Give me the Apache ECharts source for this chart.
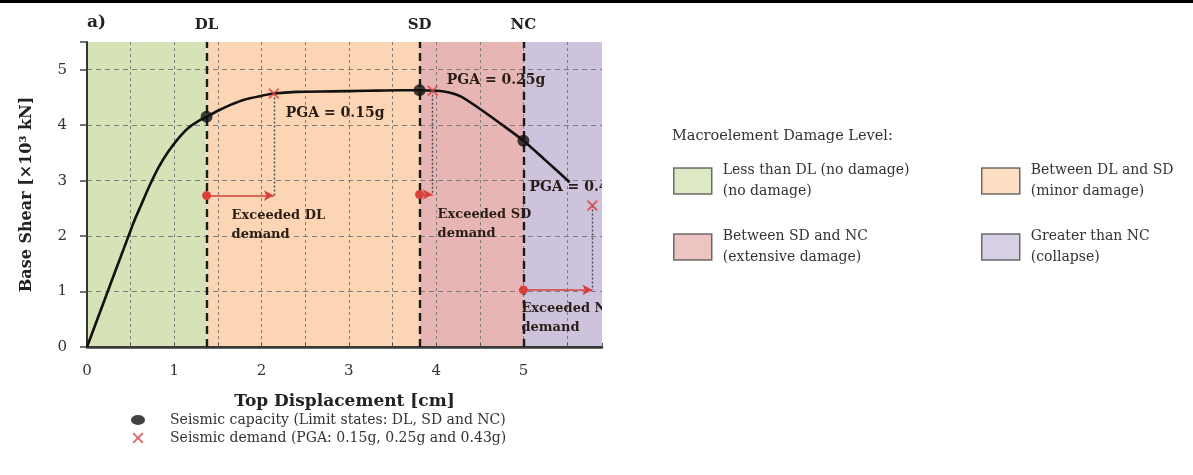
<!DOCTYPE html>
<html>
<head>
<meta charset="utf-8">
<script src="https://cdn.jsdelivr.net/npm/echarts@6/dist/echarts.min.js"></script>
<style>
  html, body { margin: 0; padding: 0; background: #ffffff; }
  #chart { width: 1193px; height: 475px; }
</style>
</head>
<body>
<div id="chart"></div>
<script>
// Pushover capacity curve of the macroelement (top displacement in cm, base shear in 10^3 kN)
const curveX = [0, 0.53, 0.62, 0.72, 0.82, 0.93, 1.04, 1.16, 1.27, 1.37, 1.5, 1.65, 1.8, 2.0, 2.14, 2.4, 2.8, 3.2, 3.6, 3.81, 4.0, 4.15, 4.28, 4.45, 4.7, 5.0, 5.25, 5.53];
const curveY = [0, 2.23, 2.56, 2.92, 3.24, 3.52, 3.75, 3.95, 4.07, 4.15, 4.26, 4.37, 4.46, 4.53, 4.57, 4.6, 4.61, 4.62, 4.63, 4.63, 4.62, 4.59, 4.52, 4.35, 4.07, 3.72, 3.37, 2.97];

// Limit states (seismic capacity) on the curve
const limitNames = ['DL', 'SD', 'NC'];
const capacityX = [1.37, 3.81, 5.0];
const capacityY = [4.15, 4.63, 3.72];

// Seismic demand for each PGA level
const pgaLabels = ['0.15g', '0.25g', '0.43g'];
const demandX = [2.14, 3.96, 5.79];
const demandY = [4.57, 4.62, 2.55];
// Height of the "exceeded demand" arrows
const exceedY = [2.73, 2.75, 1.03];

// Axis extents and tick labels
const xMax = 5.9;
const yMax = 5.5;
const xTickLabels = ['0', '1', '2', '3', '4', '5'];
const yTickLabels = ['0', '1', '2', '3', '4', '5'];

// Damage level zones
const zoneNames = [
  'Less than DL (no damage)\n(no damage)',
  'Between DL and SD\n(minor damage)',
  'Between SD and NC\n(extensive damage)',
  'Greater than NC\n(collapse)'
];
const zoneColors = ['#d5e3b7', '#fcd6b4', '#e7b6b4', '#cdc3dc'];
const zoneBounds = [0, capacityX[0], capacityX[1], capacityX[2], xMax];

const capacityName = 'Seismic capacity (Limit states: DL, SD and NC)';
const demandName = 'Seismic demand (PGA: 0.15g, 0.25g and 0.43g)';

const SERIF = '"DejaVu Serif", "Liberation Serif", serif';
const RED = '#d8403c';
const INK = '#2a1c16';
const CROSS = 'path://M0,1.2L1.2,0L5,3.8L8.8,0L10,1.2L6.2,5L10,8.8L8.8,10L5,6.2L1.2,10L0,8.8L3.8,5Z';
const ELLIPSE = 'path://M0,5a7,5 0 1,0 14,0a7,5 0 1,0 -14,0Z';

const chart = echarts.init(document.getElementById('chart'), null, { renderer: 'canvas' });

// Coloured background zones, one series each so they appear in the legend
const zoneSeries = zoneNames.map((name, i) => ({
  name: name,
  type: 'scatter',
  data: [],
  z: -1,
  itemStyle: { color: zoneColors[i] },
  markArea: {
    silent: true,
    z: -1,
    itemStyle: { color: zoneColors[i] },
    data: [[{ xAxis: zoneBounds[i] }, { xAxis: zoneBounds[i + 1] }]]
  }
}));

// Arrows from each limit state to the demand, plus dotted drop lines
const arrowLines = [];
for (let i = 0; i < demandX.length; i++) {
  arrowLines.push([
    { coord: [capacityX[i], exceedY[i]], symbol: 'circle', symbolSize: 9,
      lineStyle: { color: RED, width: 1.6, type: 'solid' } },
    { coord: [demandX[i], exceedY[i]], symbol: 'arrow', symbolSize: [8, 10] }
  ]);
  arrowLines.push([
    { coord: [demandX[i], demandY[i]], symbol: 'none',
      lineStyle: { color: '#4a4a4a', width: 1.4, type: [2, 2] } },
    { coord: [demandX[i], exceedY[i]], symbol: 'none' }
  ]);
}

// Text placement around the demand marks and arrow starts (pixel offsets)
const pgaOffsets = [[12, 20], [14, -10], [-63, -18]];
const exceedOffsets = [[25, 20], [18, 20], [-2, 18]];

const legendText = { fontFamily: SERIF, fontSize: 14, color: '#333', lineHeight: 21, padding: [0, 0, 0, 6] };

const option = {
  backgroundColor: '#ffffff',
  animation: false,
  title: [
    { text: 'a)', left: 87, top: 14, padding: 0,
      textStyle: { fontFamily: SERIF, fontSize: 17, fontWeight: 'bold', color: '#222' } },
    { text: 'Macroelement Damage Level:', left: 672, top: 129, padding: 0,
      textStyle: { fontFamily: SERIF, fontSize: 14.5, fontWeight: 'normal', color: '#333' } }
  ],
  graphic: [
    { type: 'rect', left: 0, top: 0, shape: { width: 1193, height: 3 }, style: { fill: '#000' } }
  ],
  legend: [
    {
      data: [zoneNames[0], zoneNames[2]],
      orient: 'vertical', left: 673, top: 160, itemGap: 24, padding: 0,
      icon: 'rect', itemWidth: 38, itemHeight: 26,
      itemStyle: { borderColor: '#4a4a4a', borderWidth: 1.5 },
      textStyle: legendText,
      selectedMode: false
    },
    {
      data: [zoneNames[1], zoneNames[3]],
      orient: 'vertical', left: 981, top: 160, itemGap: 24, padding: 0,
      icon: 'rect', itemWidth: 38, itemHeight: 26,
      itemStyle: { borderColor: '#4a4a4a', borderWidth: 1.5 },
      textStyle: legendText,
      selectedMode: false
    },
    {
      data: [
        { name: capacityName, icon: ELLIPSE },
        { name: demandName, icon: CROSS }
      ],
      orient: 'vertical', left: 131, top: 411, itemGap: 0, padding: 0,
      itemWidth: 14, itemHeight: 11,
      textStyle: { fontFamily: SERIF, fontSize: 14, color: '#333', lineHeight: 18, padding: [0, 0, 0, 20] },
      selectedMode: false
    }
  ],
  grid: { left: 87, right: 591, top: 42, bottom: 128, containLabel: false },
  xAxis: [
    {
      type: 'value', min: 0, max: xMax, interval: 0.5,
      name: 'Top Displacement [cm]', nameLocation: 'middle', nameGap: 46,
      nameTextStyle: { fontFamily: SERIF, fontSize: 17, fontWeight: 'bold', color: '#222' },
      axisLine: { show: true, onZero: false, lineStyle: { color: '#333', width: 2 } },
      axisTick: { show: true, inside: true, length: 4, lineStyle: { color: '#555' } },
      axisLabel: {
        fontFamily: SERIF, fontSize: 15, color: '#333', margin: 17,
        formatter: v => (Number.isInteger(v) ? xTickLabels[v] : '')
      },
      splitLine: { show: true, showMinLine: false, showMaxLine: false,
        lineStyle: { color: '#7d7d7d', width: 1, type: [3, 3] } }
    },
    {
      type: 'value', min: 0, max: xMax, position: 'top',
      axisLine: { show: true, lineStyle: { color: '#3a3a3a', width: 2.5 } },
      axisTick: { show: false }, axisLabel: { show: false }, splitLine: { show: false }
    }
  ],
  yAxis: {
    type: 'value', min: 0, max: yMax, interval: 1,
    name: 'Base Shear [×10³ kN]', nameLocation: 'middle', nameGap: 52,
    nameTextStyle: { fontFamily: SERIF, fontSize: 16, fontWeight: 'bold', color: '#222' },
    axisLine: { show: true, lineStyle: { color: '#333', width: 2 } },
    axisTick: { show: true, length: 7, lineStyle: { color: '#444', width: 1.5 } },
    axisLabel: {
      fontFamily: SERIF, fontSize: 15, color: '#333', margin: 20,
      formatter: v => (Number.isInteger(v) && v < yTickLabels.length ? yTickLabels[v] : '')
    },
    splitLine: { show: true, showMinLine: false, showMaxLine: false,
      lineStyle: { color: '#7d7d7d', width: 1, type: [5, 4] } }
  },
  series: [
    ...zoneSeries,
    {
      name: 'Capacity curve',
      type: 'line',
      data: curveX.map((x, i) => [x, curveY[i]]),
      smooth: 0.25,
      showSymbol: false,
      lineStyle: { color: '#111', width: 2.6 },
      z: 3,
      markLine: {
        silent: true,
        symbol: 'none',
        lineStyle: { color: '#1a1a1a', width: 2.4, type: [8, 5] },
        label: {
          show: true, position: 'end', distance: 9,
          fontFamily: SERIF, fontSize: 15, fontWeight: 'bold', color: '#222',
          formatter: p => p.name
        },
        data: limitNames.map((n, i) => ({ name: n, xAxis: capacityX[i] }))
      }
    },
    {
      name: 'Demand arrows',
      type: 'line',
      data: [],
      z: 4,
      markLine: {
        silent: true,
        label: { show: false },
        lineStyle: { color: RED, width: 1.6, type: 'solid' },
        itemStyle: { color: RED },
        data: arrowLines
      }
    },
    {
      name: capacityName,
      type: 'scatter',
      data: capacityX.map((x, i) => [x, capacityY[i]]),
      symbol: 'circle', symbolSize: 12,
      itemStyle: { color: '#111' },
      z: 6
    },
    {
      name: demandName,
      type: 'scatter',
      data: demandX.map((x, i) => [x, demandY[i]]),
      symbol: CROSS, symbolSize: 11,
      itemStyle: { color: RED },
      z: 6
    },
    {
      name: 'Annotations',
      type: 'custom',
      clip: true,
      z: 7,
      silent: true,
      data: demandX.map((x, i) => [x, demandY[i], capacityX[i], exceedY[i], i]),
      encode: { x: 0, y: 1 },
      renderItem: (params, api) => {
        const i = api.value(4);
        const d = api.coord([api.value(0), api.value(1)]);
        const s = api.coord([api.value(2), api.value(3)]);
        const font = { fontFamily: SERIF, fontWeight: 'bold', fill: INK };
        return {
          type: 'group',
          children: [
            {
              type: 'text',
              x: d[0] + pgaOffsets[i][0], y: d[1] + pgaOffsets[i][1],
              style: Object.assign({ text: 'PGA = ' + pgaLabels[i], fontSize: 14, align: 'left', verticalAlign: 'middle' }, font)
            },
            {
              type: 'text',
              x: s[0] + exceedOffsets[i][0], y: s[1] + exceedOffsets[i][1] - 9,
              style: Object.assign({ text: 'Exceeded ' + limitNames[i] + '\ndemand', fontSize: 13, align: 'left', verticalAlign: 'top', lineHeight: 19 }, font)
            }
          ]
        };
      }
    }
  ]
};

chart.setOption(option);
</script>
</body>
</html>
